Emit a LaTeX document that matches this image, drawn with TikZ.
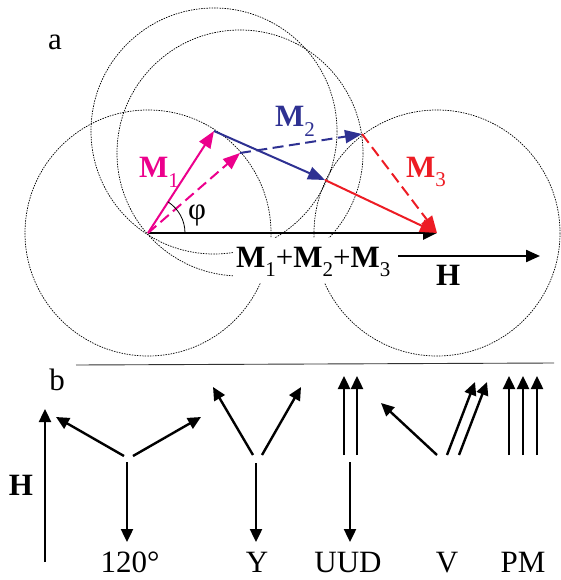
\documentclass[tikz,border=0pt]{standalone}
\usepackage{fontspec}
\setmainfont{Liberation Serif}
\usetikzlibrary{arrows.meta}
\definecolor{mag}{HTML}{EC008C}
\definecolor{navy}{HTML}{2E3192}
\definecolor{rd}{HTML}{ED1C24}
\newcommand\sbs[1]{\raisebox{-0.3em}{\fontsize{21}{21}\selectfont\mdseries #1}}
\newcommand\Mv[1]{\textbf{M}\sbs{#1}}
\begin{document}
\begin{tikzpicture}[x=1pt,y=-1pt,
  circ/.style={line width=0.7pt, dash pattern=on 1.5pt off 1.1pt},
  va/.style={line width=2pt,-{Triangle[length=17pt,width=13pt]}},
  dsh/.style={dash pattern=on 11pt off 5.5pt},
  vb/.style={line width=2.4pt,-{Triangle[length=13pt,width=12pt]}},
  lab/.style={font=\fontsize{31}{37}\selectfont, inner sep=0pt},
]
\useasboundingbox (0,0) rectangle (561,580);
% part a
\coordinate (O) at (148,233);
\coordinate (A1) at (214,131);
\coordinate (A2) at (325,180);
\coordinate (S) at (437,233);
\coordinate (B1) at (240,153);
\coordinate (B2) at (362,134);
\draw[circ] (O) circle[radius=123];
\draw[circ] (A1) circle[radius=123];
\draw[circ] (B1) circle[radius=123];
\draw[circ] (S) circle[radius=123];
\node[lab, fill=white, anchor=base west, inner xsep=3pt, text height=29pt, text depth=16pt] (sum) at (233,267) {\Mv1+\Mv2+\Mv3};
\draw[line width=2.8pt,-{Triangle[length=14pt,width=13pt]}] (O) -- (S);
\draw[va, mag] (O) -- (A1);
\draw[va, navy] (A1) -- (A2);
\draw[va, rd] (A2) -- (S);
\draw[va, mag, dsh] (O) -- (B1);
\draw[va, navy, dsh] (B1) -- (B2);
\draw[va, rd, dsh] (B2) -- (S);
\draw[line width=0.8pt] (O) ++(37,0) arc[start angle=0,end angle=-57.4,radius=37];
\node[lab] (phi) at (197,215) {φ};
\node[lab, mag, anchor=base west] (m1) at (139,178) {\Mv1};
\node[lab, navy, anchor=base west] (m2) at (275,127) {\Mv2};
\node[lab, rd, anchor=base west] (m3) at (406,177) {\Mv3};
\node[lab, anchor=base west] (hA) at (436,285) {\textbf{H}};
\coordinate (h1) at (398,256);
\coordinate (h2) at (540,256);
\draw[line width=2.2pt,-{Triangle[length=14pt,width=12pt]}] (h1) -- (h2);
\node[lab] (la) at (55,42) {a};
% separator
\coordinate (s1) at (76,365);
\coordinate (s2) at (554,363);
\draw[line width=0.9pt, black!80] (s1) -- (s2);
% part b
\node[lab] (lb) at (57,380) {b};
\coordinate (H0) at (45,562);
\coordinate (H1) at (45,409);
\draw[vb] (H0) -- (H1);
\node[lab] (hB) at (21,485) {\textbf{H}};
% 120
\coordinate (t0a) at (127,462); \coordinate (t1a) at (127,542);
\coordinate (t0b) at (124,456); \coordinate (t1b) at (56,417);
\coordinate (t0c) at (133,456); \coordinate (t1c) at (201,417);
\draw[vb] (t0a) -- (t1a);
\draw[vb] (t0b) -- (t1b);
\draw[vb] (t0c) -- (t1c);
\node[lab, anchor=base] (l120) at (130,572) {120°};
% Y
\coordinate (y0a) at (256,463); \coordinate (y1a) at (256,542);
\coordinate (y0b) at (253,455); \coordinate (y1b) at (213,387);
\coordinate (y0c) at (262,455); \coordinate (y1c) at (301,387);
\draw[vb] (y0a) -- (y1a);
\draw[vb] (y0b) -- (y1b);
\draw[vb] (y0c) -- (y1c);
\node[lab, anchor=base] (lY) at (257,572) {Y};
% UUD
\coordinate (u0a) at (344,455); \coordinate (u1a) at (344,376);
\coordinate (u0b) at (357,455); \coordinate (u1b) at (357,376);
\coordinate (u0c) at (350,462); \coordinate (u1c) at (350,542);
\draw[vb] (u0a) -- (u1a);
\draw[vb] (u0b) -- (u1b);
\draw[vb] (u0c) -- (u1c);
\node[lab, anchor=base] (lU) at (348,572) {UUD};
% V
\coordinate (v0a) at (437,455); \coordinate (v1a) at (381,403);
\coordinate (v0b) at (447,455); \coordinate (v1b) at (475,382);
\coordinate (v0c) at (459,455); \coordinate (v1c) at (487,382);
\draw[vb] (v0a) -- (v1a);
\draw[vb] (v0b) -- (v1b);
\draw[vb] (v0c) -- (v1c);
\node[lab, anchor=base] (lV) at (447,572) {V};
% PM
\coordinate (p0a) at (509,455); \coordinate (p1a) at (509,376);
\coordinate (p0b) at (523,455); \coordinate (p1b) at (523,376);
\coordinate (p0c) at (537,455); \coordinate (p1c) at (537,376);
\draw[vb] (p0a) -- (p1a);
\draw[vb] (p0b) -- (p1b);
\draw[vb] (p0c) -- (p1c);
\node[lab, anchor=base] (lP) at (523,572) {PM};
\end{tikzpicture}
\end{document}
